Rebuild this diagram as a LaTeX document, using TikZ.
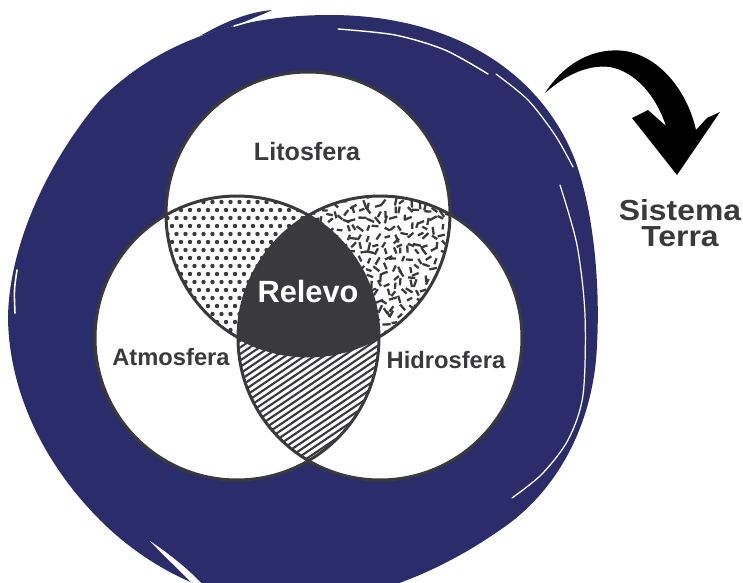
\documentclass[tikz,border=0pt]{standalone}
\usepackage{fontspec}
\setmainfont{Liberation Sans}
\newfontfamily\widesans[FakeStretch=1.1]{Liberation Sans}
\definecolor{navy}{RGB}{43,45,106}
\definecolor{ink}{RGB}{58,58,60}
\begin{document}
\begin{tikzpicture}[x=0.02cm,y=-0.02cm,
  outline/.style={draw=ink, line width=1.7pt},
  lbl/.style={text=ink, font=\bfseries\fontsize{13.5}{16}\selectfont, inner sep=0pt, anchor=base},
  streak/.style={draw=white, line width=0.8pt, line cap=round}
]
\useasboundingbox (0,0) rectangle (743,582);
\fill[white] (0,0) rectangle (743,582);
\clip (0,0) rectangle (743,582);
\coordinate (T) at (308,214);
\coordinate (L) at (237,338);
\coordinate (R) at (380,338);
% brush ring
\fill[navy] (330,15) .. controls (450,15) and (540,70) .. (575,160)
  .. controls (595,215) and (600,290) .. (597,345)
  .. controls (594,420) and (560,490) .. (500,530)
  .. controls (440,572) and (370,600) .. (300,605)
  .. controls (220,605) and (150,570) .. (100,520)
  .. controls (50,470) and (10,400) .. (8,320)
  .. controls (8,250) and (45,165) .. (100,100)
  .. controls (160,40) and (240,15) .. (330,15) -- cycle;
\fill[navy] (200,36) .. controls (228,20) and (250,12) .. (272,10)
  .. controls (262,15) and (250,19) .. (240,24) -- cycle;
\draw[streak, line width=0.9pt] (234,26) -- (268,16);
\draw[streak, line width=0.9pt] (17,270) .. controls (14,290) .. (15,313);
\fill[white] (150,541) .. controls (175,558) and (197,576) .. (216,600)
  -- (208,600) .. controls (190,580) and (170,562) .. (150,541) -- cycle;
\draw[streak, line width=0.7pt] plot[smooth] coordinates {(560,185) (577,245) (585,315) (583,395) (568,440) (542,474) (512,498)};
\draw[streak] plot[smooth] coordinates {(338,29) (395,35) (445,50) (488,74)};
\draw[streak, line width=0.7pt] plot[smooth] coordinates {(496,74) (528,100) (555,135) (573,167)};
% venn discs
\fill[white] (T) circle (2.84cm);
\fill[white] (L) circle (2.84cm);
\fill[white] (R) circle (2.84cm);
% dots: top & left
\begin{scope}
\clip (T) circle (2.84cm);
\clip (L) circle (2.84cm);
\foreach \j in {0,...,22} {
  \foreach \i in {0,...,17} {
    \fill[ink] ({163+9*\i+4.5*mod(\j,2)},{194+8*\j}) circle (0.044cm);
  }
}
\end{scope}
% confetti: top & right
\begin{scope}
\clip (T) circle (2.84cm);
\clip (R) circle (2.84cm);
\pgfmathsetseed{11}
\foreach \j in {0,...,22} {
  \foreach \i in {0,...,20} {
    \pgfmathsetmacro\cx{298+8*\i+3*rand}
    \pgfmathsetmacro\cy{188+8*\j+3*rand}
    \pgfmathsetmacro\ca{180*rnd}
    \pgfmathsetmacro\cl{2.8+1.4*rnd}
    \pgfmathsetmacro\cb{\ca+180}
    \pgfmathsetmacro\cd{2*\cl}
    \draw[ink, line width=1.3pt] (\cx,\cy) ++(\ca:\cl) -- ++(\cb:\cd);
  }
}
\end{scope}
% hatching: left & right
\begin{scope}
\clip (L) circle (2.84cm);
\clip (R) circle (2.84cm);
\foreach \k in {0,...,60} {
  \draw[ink, line width=1.2pt] (200,{225+6.5*\k}) -- ++(230,-155);
}
\end{scope}
% centre: all three
\begin{scope}
\clip (T) circle (2.84cm);
\clip (L) circle (2.84cm);
\fill[ink] (R) circle (2.84cm);
\end{scope}
\draw[outline] (T) circle (2.84cm);
\draw[outline] (L) circle (2.84cm);
\draw[outline] (R) circle (2.84cm);
% labels
\node[lbl, font=\bfseries\fontsize{14.3}{17}\selectfont] (lito) at (307,160) {Litosfera};
\node[lbl, text=white, font=\bfseries\fontsize{17.5}{20}\selectfont] (relevo) at (308,302) {Relevo};
\node[lbl] (atmo) at (171,365) {Atmosfera};
\node[lbl] (hidro) at (446,368) {Hidrosfera};
\node[text=ink, inner sep=0pt, align=center, anchor=center,
      font=\widesans\bfseries\fontsize{16.5}{15}\selectfont] (sist) at (680,223) {Sistema\\Terra};
% curved arrow
\fill[black] (545,93) .. controls (565,62) and (595,47) .. (625,51)
  .. controls (662,57) and (688,94) .. (696,130) -- (707,118) -- (720,112)
  -- (677,175) -- (632,118) -- (648,110) -- (666,126)
  .. controls (656,96) and (636,72) .. (610,67)
  .. controls (585,64) and (562,78) .. (545,93) -- cycle;
\end{tikzpicture}
\end{document}
